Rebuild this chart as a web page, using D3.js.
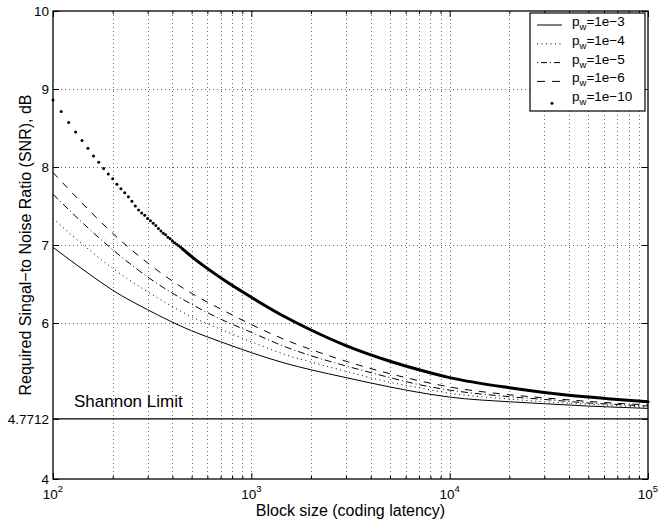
<!DOCTYPE html>
<html>
<head>
<meta charset="utf-8">
<script src="https://cdn.jsdelivr.net/npm/d3@7"></script>
<style>
  body { margin: 0; background: #fff; }
  svg { display: block; font-family: "Liberation Sans", Arial, Helvetica, sans-serif; }
</style>
</head>
<body>
<div id="chart"></div>
<script>
const margin = { top: 11, right: 10, bottom: 44, left: 53 };
const width = 648 - margin.left;
const height = 479 - margin.top;

const blockSizes = [100, 150, 200, 300, 500, 700, 1000, 1500, 2000, 3000, 5000, 7000, 10000, 20000, 30000, 50000, 70000, 100000];
const snrPw1e3 = [6.97, 6.64, 6.42, 6.17, 5.90, 5.76, 5.62, 5.48, 5.40, 5.30, 5.18, 5.11, 5.05, 4.99, 4.965, 4.935, 4.92, 4.905];
const snrPw1e4 = [7.34, 6.95, 6.70, 6.40, 6.08, 5.92, 5.76, 5.59, 5.50, 5.38, 5.24, 5.17, 5.10, 5.025, 4.99, 4.96, 4.94, 4.92];
const snrPw1e5 = [7.65, 7.22, 6.94, 6.59, 6.24, 6.05, 5.88, 5.69, 5.58, 5.45, 5.30, 5.21, 5.14, 5.055, 5.02, 4.975, 4.955, 4.935];
const snrPw1e6 = [7.93, 7.46, 7.15, 6.77, 6.38, 6.18, 5.98, 5.78, 5.66, 5.51, 5.35, 5.26, 5.18, 5.08, 5.04, 4.995, 4.97, 4.95];
const snrPw1e10 = [8.86, 8.25, 7.86, 7.35, 6.85, 6.58, 6.33, 6.07, 5.91, 5.71, 5.51, 5.40, 5.30, 5.17, 5.11, 5.05, 5.02, 4.99];

// the p_w=1e-10 markers that are still separate dots (n = 100, 110, ..., 450)
const dotBlockSizes = [100, 110, 120, 130, 140, 150, 160, 170, 180, 190, 200, 210, 220, 230, 240, 250, 260, 270,
  280, 290, 300, 310, 320, 330, 340, 350, 360, 370, 380, 390, 400, 410, 420, 430, 440, 450];
const dotSnr = [8.86, 8.71, 8.57, 8.45, 8.34, 8.24, 8.14, 8.06, 7.98, 7.91, 7.85, 7.78, 7.72, 7.67, 7.62, 7.56, 7.50, 7.45,
  7.41, 7.38, 7.34, 7.31, 7.28, 7.25, 7.21, 7.18, 7.15, 7.13, 7.10, 7.08, 7.05, 7.03, 7.01, 6.99, 6.97, 6.95];

const shannonLimit = 4.7712;
const yTicks = [4, 4.7712, 6, 7, 8, 9, 10];
const xMajorTicks = [1e2, 1e3, 1e4, 1e5];
const legendLabels = ["1e\u22123", "1e\u22124", "1e\u22125", "1e\u22126", "1e\u221210"];

const svg = d3.select("#chart")
  .append("svg")
  .attr("width", 658)
  .attr("height", 523)
  .append("g")
  .attr("transform", `translate(${margin.left},${margin.top})`);

const x = d3.scaleLog().domain([1e2, 1e5]).range([0, width]);
const y = d3.scaleLinear().domain([4, 10]).range([height, 0]);

// minor ticks for the log axis (2..9 in every decade)
const xMinorTicks = x.ticks().filter(t => !xMajorTicks.includes(t));

// grid
const grid = svg.append("g").attr("stroke", "#666").attr("stroke-width", 1).attr("stroke-dasharray", "1,3");
grid.selectAll(".vgrid")
  .data(x.ticks().filter(t => t > 1e2 && t < 1e5))
  .enter().append("line")
  .attr("x1", d => Math.round(x(d)) + 0.5)
  .attr("x2", d => Math.round(x(d)) + 0.5)
  .attr("y1", 0)
  .attr("y2", height);
grid.selectAll(".hgrid")
  .data([6, 7, 8, 9])
  .enter().append("line")
  .attr("x1", 0)
  .attr("x2", width)
  .attr("y1", d => Math.round(y(d)) + 0.5)
  .attr("y2", d => Math.round(y(d)) + 0.5);

// Shannon limit
svg.append("line")
  .attr("x1", 0).attr("x2", width)
  .attr("y1", y(shannonLimit)).attr("y2", y(shannonLimit))
  .attr("stroke", "#000").attr("stroke-width", 1.2);
svg.append("text")
  .attr("x", 21)
  .attr("y", y(shannonLimit) - 12)
  .style("font-size", "17px")
  .text("Shannon Limit");

// curves
const line = d3.line()
  .x(d => x(d[0]))
  .y(d => y(d[1]))
  .curve(d3.curveMonotoneX);

const series = [
  { values: snrPw1e3, dash: null },
  { values: snrPw1e4, dash: "1,3.5" },
  { values: snrPw1e5, dash: "7,3,1,3" },
  { values: snrPw1e6, dash: "7,7" }
];

series.forEach(s => {
  svg.append("path")
    .datum(blockSizes.map((n, i) => [n, s.values[i]]))
    .attr("fill", "none")
    .attr("stroke", "#000")
    .attr("stroke-width", 1)
    .attr("stroke-dasharray", s.dash)
    .attr("d", line);
});

// p_w=1e-10: separate dots on the left, merged into a heavy line further right
svg.selectAll(".dot")
  .data(dotBlockSizes.map((n, i) => [n, dotSnr[i]]))
  .enter().append("circle")
  .attr("cx", d => x(d[0]))
  .attr("cy", d => y(d[1]))
  .attr("r", 1.5)
  .attr("fill", "#000");

const lastDot = dotBlockSizes.length - 1;
const tail = [[dotBlockSizes[lastDot], dotSnr[lastDot]]]
  .concat(blockSizes.map((n, i) => [n, snrPw1e10[i]]).filter(d => d[0] > dotBlockSizes[lastDot]));
svg.append("path")
  .datum(tail)
  .attr("fill", "none")
  .attr("stroke", "#000")
  .attr("stroke-width", 3)
  .attr("stroke-linecap", "round")
  .attr("d", line);

// axes box and ticks (ticks point inward)
const axisStyle = g => {
  g.select(".domain").remove();
  g.selectAll(".tick line").attr("stroke", "#000");
  g.selectAll(".tick text").remove();
};
svg.append("g").attr("transform", `translate(0,${height})`)
  .call(d3.axisBottom(x).tickValues(xMajorTicks).tickSize(-6)).call(axisStyle);
svg.append("g").attr("transform", `translate(0,${height})`)
  .call(d3.axisBottom(x).tickValues(xMinorTicks).tickSize(-3)).call(axisStyle);
svg.append("g")
  .call(d3.axisTop(x).tickValues(xMajorTicks).tickSize(-6)).call(axisStyle);
svg.append("g")
  .call(d3.axisTop(x).tickValues(xMinorTicks).tickSize(-3)).call(axisStyle);
svg.append("g")
  .call(d3.axisLeft(y).tickValues(yTicks).tickSize(-6)).call(axisStyle);
svg.append("g").attr("transform", `translate(${width},0)`)
  .call(d3.axisRight(y).tickValues(yTicks).tickSize(-6)).call(axisStyle);

svg.append("rect")
  .attr("x", 0).attr("y", 0)
  .attr("width", width).attr("height", height)
  .attr("fill", "none")
  .attr("stroke", "#000")
  .attr("stroke-width", 1.3);

// tick labels
svg.selectAll(".ylabel")
  .data(yTicks)
  .enter().append("text")
  .attr("x", -4)
  .attr("y", d => y(d))
  .attr("dy", "0.35em")
  .attr("text-anchor", "end")
  .style("font-size", "13.5px")
  .text(d => d);

const xl = svg.selectAll(".xlabel")
  .data(xMajorTicks)
  .enter().append("text")
  .attr("x", d => x(d))
  .attr("y", height + 20)
  .attr("text-anchor", "middle")
  .style("font-size", "13.5px");
xl.append("tspan").text("10");
xl.append("tspan")
  .attr("dy", -7)
  .style("font-size", "9.5px")
  .text(d => Math.round(Math.log10(d)));

// axis titles
svg.append("text")
  .attr("x", width / 2)
  .attr("y", height + 37)
  .attr("text-anchor", "middle")
  .style("font-size", "16px")
  .text("Block size (coding latency)");

svg.append("text")
  .attr("transform", `translate(-22,${height / 2}) rotate(-90)`)
  .attr("text-anchor", "middle")
  .style("font-size", "16px")
  .text("Required Singal\u2212to Noise Ratio (SNR), dB");

// legend
const legend = svg.append("g").attr("transform", `translate(${530 - margin.left},${13 - margin.top})`);
legend.append("rect")
  .attr("width", 115).attr("height", 98)
  .attr("fill", "#fff")
  .attr("stroke", "#000")
  .attr("stroke-width", 1.2);

const legendDash = [null, "1,3.5", "1,3,6,3", "8,7"];
legendLabels.forEach((lab, i) => {
  const row = legend.append("g").attr("transform", `translate(0,${12 + i * 18.8})`);
  if (i < 4) {
    row.append("line")
      .attr("x1", 7).attr("x2", 32)
      .attr("y1", 0).attr("y2", 0)
      .attr("stroke", "#000")
      .attr("stroke-width", 1)
      .attr("stroke-dasharray", legendDash[i]);
  } else {
    row.append("circle").attr("cx", 22).attr("cy", 3).attr("r", 1.5).attr("fill", "#000");
  }
  const t = row.append("text")
    .attr("x", 42)
    .attr("y", 1)
    .style("font-size", "13.5px");
  t.append("tspan").text("p");
  t.append("tspan").attr("dy", 4).style("font-size", "9.5px").text("w");
  t.append("tspan").attr("dy", -4).text("=" + lab);
});
</script>
</body>
</html>
